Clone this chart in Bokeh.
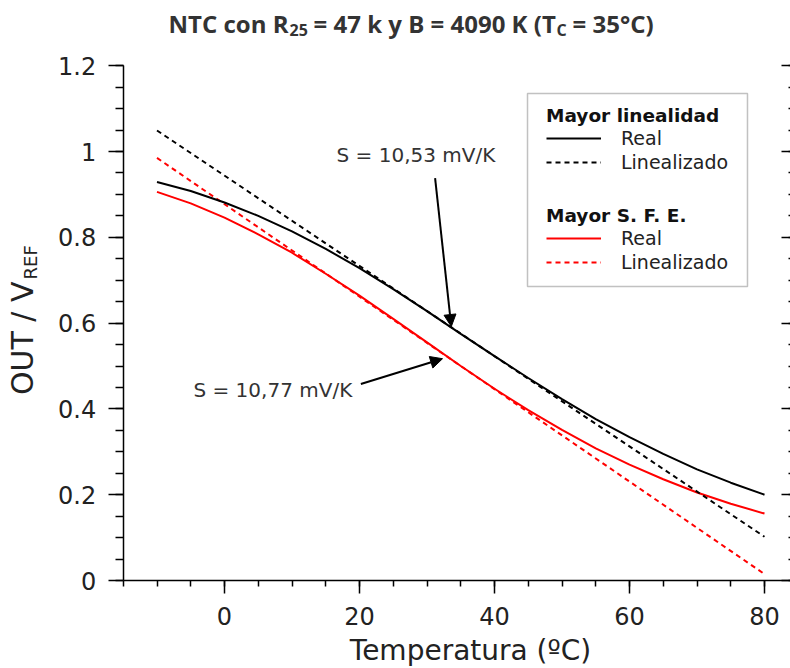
import math
from bokeh.plotting import figure
from bokeh.models import (Label, Legend, LegendItem, Arrow, NormalHead, LinearAxis,
                          SingleIntervalTicker, CustomJSTickFormatter, BoxAnnotation, Range1d)
from bokeh.embed import file_html
from bokeh.resources import INLINE

# ---- data ----
temp = [-10, -5, 0, 5, 10, 15, 20, 25, 30, 35, 40, 45, 50, 55, 60, 65, 70, 75, 80]
real_lin = [0.929, 0.908, 0.881, 0.850, 0.814, 0.773, 0.728, 0.679, 0.628, 0.575,
            0.523, 0.472, 0.423, 0.376, 0.334, 0.295, 0.259, 0.228, 0.200]
real_sfe = [0.906, 0.879, 0.846, 0.807, 0.764, 0.715, 0.664, 0.610, 0.555, 0.500,
            0.447, 0.397, 0.351, 0.308, 0.270, 0.236, 0.205, 0.179, 0.156]
lin_temp = [-10, 80]
lin_lin = [1.049, 0.102]
lin_sfe = [0.985, 0.015]

series_labels = ["Real", "Linealizado"]
group_titles = ["Mayor linealidad", "Mayor S. F. E."]
slope_texts = ["S = 10,53 mV/K", "S = 10,77 mV/K"]

RED = "#ff0000"
TXT = "#222222"
FONT = "DejaVu Sans"
W, H = 790, 668
BL = 0.32  # baseline correction (fraction of font size)

# The frame covers the whole canvas; axes are pinned at fixed data locations
# so that every text (title, axis labels) lies inside the frame.
X0, X1 = -15, 84.1
p = figure(width=W, height=H, output_backend="svg", toolbar_location=None,
           x_range=Range1d(-224 / 6.75, (W - 224) / 6.75),
           y_range=Range1d((580 - H) / 429.0, 580 / 429.0),
           min_border=0, min_border_left=0, min_border_right=0,
           min_border_top=0, min_border_bottom=0)
p.xgrid.visible = False
p.ygrid.visible = False
p.outline_line_color = None
p.background_fill_color = "white"
p.border_fill_color = "white"

p.xaxis.ticker = SingleIntervalTicker(interval=20, num_minor_ticks=4)
p.yaxis.ticker = SingleIntervalTicker(interval=0.2, num_minor_ticks=4)
p.yaxis.formatter = CustomJSTickFormatter(code="return String(Number(tick.toFixed(2)));")
p.xaxis.fixed_location = 0
p.yaxis.fixed_location = X0
p.xaxis.bounds = (X0, X1)
p.yaxis.bounds = (0, 1.2000001)
for ax in (p.xaxis, p.yaxis):
    ax.axis_line_width = 1.5
    ax.major_tick_line_width = 1.5
    ax.minor_tick_line_width = 1.5
    ax.axis_line_color = "black"
    ax.major_tick_line_color = "black"
    ax.minor_tick_line_color = "black"
    ax.major_tick_in = 0
    ax.minor_tick_in = 0
    ax.major_label_text_font = FONT
    ax.major_label_text_font_size = "24px"
    ax.major_label_text_color = TXT
p.xaxis.major_tick_out = 13
p.xaxis.minor_tick_out = 6
p.xaxis.major_label_standoff = 13
p.yaxis.major_tick_out = 15
p.yaxis.minor_tick_out = 8
p.yaxis.major_label_standoff = 12

ra = LinearAxis(ticker=SingleIntervalTicker(interval=0.2, num_minor_ticks=4),
                formatter=CustomJSTickFormatter(code="return '';"),
                fixed_location=X1, bounds=(0, 1.2000001),
                major_tick_in=11, major_tick_out=0, minor_tick_in=4, minor_tick_out=0,
                major_label_standoff=0, axis_line_width=1.5,
                major_tick_line_width=1.5, minor_tick_line_width=1.5)
p.add_layout(ra, "right")

# data lines
r_sfe = p.line(temp, real_sfe, line_color=RED, line_width=2)
r_sfe_l = p.line(lin_temp, lin_sfe, line_color=RED, line_width=2, line_dash="5 4")
r_lin = p.line(temp, real_lin, line_color="black", line_width=2)
r_lin_l = p.line(lin_temp, lin_lin, line_color="black", line_width=2, line_dash="5 4")

# legend box
p.add_layout(BoxAnnotation(left=44.89, right=77.48, top=1.1352, bottom=0.6853,
                           fill_color="white", fill_alpha=1.0,
                           line_color="#333333", line_width=1.5))

def make_legend(title, rs, loc):
    return Legend(items=[LegendItem(label=series_labels[i], renderers=[rs[i]]) for i in range(2)],
                  title=title, location=loc, orientation="vertical",
                  padding=0, margin=0, spacing=0,
                  glyph_width=55, glyph_height=24, label_height=24, label_standoff=20,
                  label_text_font=FONT, label_text_font_size="19px", label_text_color=TXT,
                  title_text_font=FONT, title_text_font_size="18.5px", title_text_font_style="bold",
                  title_text_color="#111111", title_standoff=0,
                  background_fill_alpha=0, border_line_color=None)

p.add_layout(make_legend(group_titles[0], [r_lin, r_lin_l], (546, H - 174)))
p.add_layout(make_legend(group_titles[1], [r_sfe, r_sfe_l], (546, H - 274)))

# slope annotations
p.add_layout(Label(x=16.6, y=0.991, text=slope_texts[0], text_font=FONT, text_font_size="20px",
                   text_color="#333333", text_align="left", text_baseline="alphabetic"))
p.add_layout(Label(x=-4.6, y=0.445, text=slope_texts[1], text_font=FONT, text_font_size="20px",
                   text_color="#333333", text_align="left", text_baseline="alphabetic"))
p.add_layout(Arrow(end=NormalHead(size=12, fill_color="black", line_color="black"),
                   x_start=31.2, y_start=0.938, x_end=33.6, y_end=0.592,
                   line_color="black", line_width=2))
p.add_layout(Arrow(end=NormalHead(size=12, fill_color="black", line_color="black"),
                   x_start=20.2, y_start=0.458, x_end=32.3, y_end=0.517,
                   line_color="black", line_width=2))

# title (with subscripts), screen units from the canvas' bottom-left
TF = "Open Sans"
TC = "#333333"
title_parts = [
    ("NTC con R", 168, 31, 24),
    ("25", 289, 35, 16),
    ("= 47 k y B = 4090 K (T", 313, 31, 24),
    ("C", 556, 35, 16),
    ("= 35°C)", 572, 31, 24),
]
for txt, xx, yy, fs in title_parts:
    p.add_layout(Label(x=xx, y=H - yy + BL * fs, x_units="screen", y_units="screen", text=txt,
                       text_font=TF, text_font_size=f"{fs}px", text_font_style="bold",
                       text_color=TC, text_align="left", text_baseline="alphabetic"))

# axis labels
p.add_layout(Label(x=470, y=H - 659 + BL * 28, x_units="screen", y_units="screen",
                   text="Temperatura (ºC)",
                   text_font=FONT, text_font_size="28px", text_color=TXT,
                   text_align="center", text_baseline="alphabetic"))
p.add_layout(Label(x=32 - BL * 30, y=H - 281, x_units="screen", y_units="screen", text="OUT / V",
                   angle=math.pi / 2, text_font=FONT, text_font_size="30px", text_color=TXT,
                   text_align="right", text_baseline="alphabetic"))
p.add_layout(Label(x=36 - BL * 18, y=H - 279, x_units="screen", y_units="screen", text="REF",
                   angle=math.pi / 2, text_font=FONT, text_font_size="18px", text_color=TXT,
                   text_align="left", text_baseline="alphabetic"))

open("out.html", "w").write(file_html(p, INLINE))
